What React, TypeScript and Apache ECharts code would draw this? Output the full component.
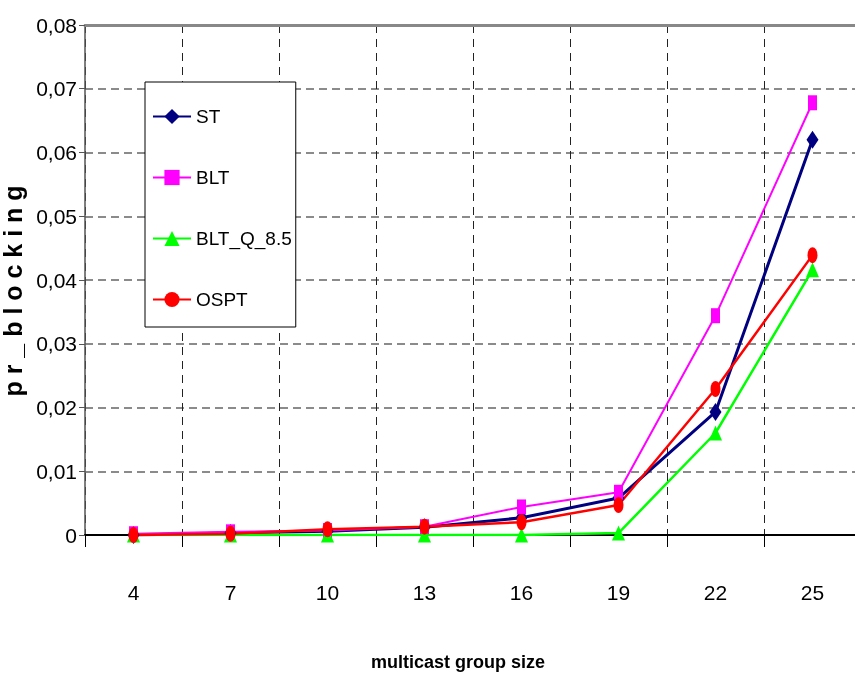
import React, { useEffect, useRef } from "react";
import * as echarts from "echarts";

const categories = ["4", "7", "10", "13", "16", "19", "22", "25"];
const stValues = [0, 0.0003, 0.0006, 0.0012, 0.0027, 0.0058, 0.0193, 0.062];
const bltValues = [0.0002, 0.0005, 0.0007, 0.0013, 0.0044, 0.0067, 0.0344, 0.0678];
const bltQValues = [0, 0, 0, 0, 0, 0.0003, 0.016, 0.0416];
const osptValues = [0, 0.0002, 0.0009, 0.0013, 0.002, 0.0047, 0.0229, 0.0439];
const yTicks = { min: 0, max: 0.08, interval: 0.01 };

const FONT = "'Liberation Sans', Arial, sans-serif";
const ELLIPSE = "path://M1,0A1,1 0 1 1 1,2A1,1 0 1 1 1,0Z";

export default function App() {
  const ref = useRef<HTMLDivElement>(null);
  useEffect(() => {
    if (!ref.current) return;
    const chart = echarts.init(ref.current, null, { renderer: "svg" });
    const mk = (name: string, data: number[], color: string, symbol: string, size: number[], width: number) => ({
      name,
      type: "line",
      data,
      symbol,
      symbolSize: size,
      lineStyle: { color, width },
      itemStyle: { color },
      xAxisIndex: 0,
    });
    chart.setOption({
      animation: false,
      textStyle: { fontFamily: FONT },
      grid: { left: 85, top: 25, right: -6, bottom: 143, containLabel: false, outerBoundsMode: "none" },
      legend: {
        orient: "vertical",
        left: 145,
        top: 82,
        backgroundColor: "#fff",
        borderColor: "#000",
        borderWidth: 1,
        padding: [25, 4, 18, 7],
        itemGap: 42,
        itemWidth: 38,
        itemHeight: 19,
        textStyle: { fontSize: 19, color: "#000", fontFamily: FONT },
        data: ["ST", "BLT", "BLT_Q_8.5", "OSPT"],
      },
      xAxis: [
        {
          type: "category",
          data: categories,
          boundaryGap: true,
          name: "multicast group size",
          nameLocation: "middle",
          nameGap: 118,
          nameTextStyle: { fontSize: 18, fontWeight: "bold", color: "#000", fontFamily: FONT, padding: [0, 30, 0, 0] },
          axisLine: { lineStyle: { color: "#000", width: 2 } },
          axisTick: { show: true, length: 12, lineStyle: { color: "#000", width: 1 } },
          axisLabel: { fontSize: 21, color: "#000", margin: 47, fontFamily: FONT },
          splitLine: { show: true, lineStyle: { color: "#222", width: 1, type: [8, 6] } },
        },
        {
          type: "category",
          data: categories,
          position: "top",
          axisLine: { lineStyle: { color: "#888", width: 3 } },
          axisTick: { show: false },
          axisLabel: { show: false },
          splitLine: { show: false },
        },
      ],
      yAxis: {
        type: "value",
        min: yTicks.min,
        max: yTicks.max,
        interval: yTicks.interval,
        name: "p r _ b l o c k i n g",
        nameLocation: "middle",
        nameRotate: 90,
        nameGap: 55,
        nameTextStyle: { fontSize: 25, fontWeight: "bold", color: "#000", fontFamily: FONT, padding: [0, 22, 0, 0] },
        axisLine: { show: true, lineStyle: { color: "#555", width: 1.5 } },
        axisTick: { show: true, length: 6, lineStyle: { color: "#555" } },
        axisLabel: {
          fontSize: 21,
          color: "#000",
          margin: 8,
          fontFamily: FONT,
          formatter: (v: number) => (v === 0 ? "0" : v.toFixed(2).replace(".", ",")),
        },
        splitLine: { show: true, lineStyle: { color: "#666", width: 1.5, type: [8, 5] } },
      },
      series: [
        mk("ST", stValues, "#000080", "diamond", [12, 18], 3),
        mk("BLT", bltValues, "#ff00ff", "rect", [9, 15], 2),
        mk("BLT_Q_8.5", bltQValues, "#00ff00", "triangle", [13, 15], 2.5),
        mk("OSPT", osptValues, "#ff0000", ELLIPSE, [10, 16], 2.5),
      ],
    });
    return () => chart.dispose();
  }, []);
  return <div ref={ref} style={{ position: "fixed", left: 0, top: 0, width: 855, height: 678 }} />;
}
